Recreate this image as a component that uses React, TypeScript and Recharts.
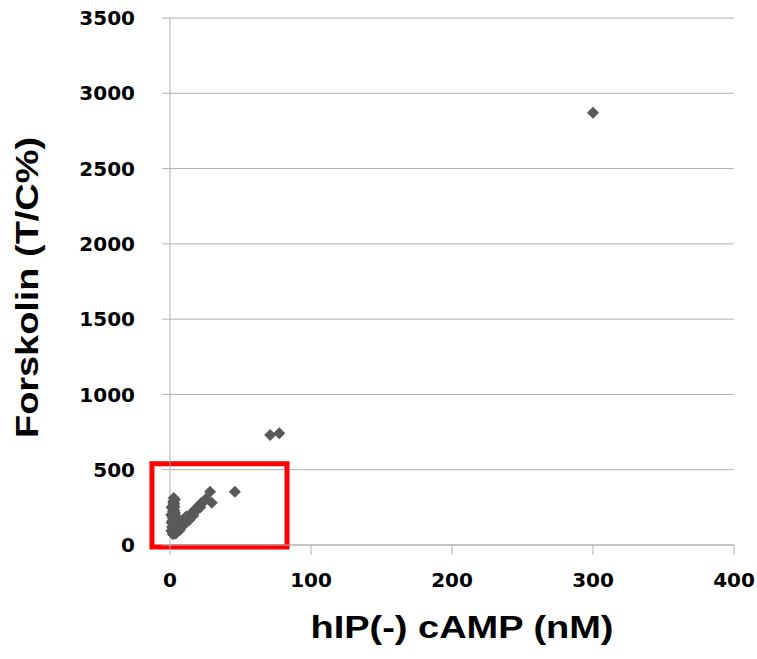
import { ScatterChart, Scatter, XAxis, YAxis, CartesianGrid, ReferenceArea } from "recharts"

// hIP(-) cAMP (nM) vs Forskolin (T/C%)
const camp = [
  2.0, 3.0, 1.5, 2.5, 3.5, 2.0, 3.0, 1.5, 2.5, 3.5, 2.0, 3.0, 1.5, 2.5, 3.5, 2.0,
  3.0, 1.5, 2.5, 3.5, 2.0, 3.0, 2.5, 1.8, 3.2, 2.4, 3.0, 2.2, 2.8, 3.4, 2.6,
  1.0, 4.2, 1.2, 4.0, 0.9, 4.3, 1.1,
  4.0, 5.0, 5.5, 6.5, 7.0, 8.0, 8.5, 9.5, 10.5, 11.0, 12.0, 13.0, 14.0, 15.0, 16.0,
  17.0, 18.0, 19.0, 20.0, 21.0, 22.0, 24.0, 9.0, 12.0, 15.0, 18.0,
  7.0, 10.0, 13.5, 16.5, 19.5, 6.0, 11.5, 21.5, 25.5,
  28.4, 29.6, 46, 71, 77.5, 300,
]
const forskolin = [
  72, 78, 88, 92, 98, 105, 112, 120, 128, 135, 142, 150, 158, 165, 172, 180,
  188, 196, 204, 212, 220, 228, 238, 246, 254, 264, 274, 284, 294, 302, 312,
  95, 110, 150, 140, 200, 190, 250,
  76, 86, 98, 108, 120, 130, 142, 150, 160, 172, 180, 190, 198, 208, 218,
  226, 236, 246, 256, 266, 278, 290, 135, 165, 195, 225,
  100, 135, 165, 195, 235, 125, 190, 250, 305,
  354, 280, 354, 730, 742, 2870,
]
const xTicks = [0, 100, 200, 300, 400]
const yTicks = [0, 500, 1000, 1500, 2000, 2500, 3000, 3500]
// highlight box around the low-value cluster (data units)
const boxX = [-12.8, 83]
const boxY = [-13, 540]

const data = camp.map((x, i) => ({ x, y: forskolin[i] }))

const GRID = "#b0b0b0"
const tickFont = { fill: "#000", fontSize: 20, fontWeight: 700, fontFamily: "DejaVu Sans" }

const Diamond = (props: any) => {
  const { cx, cy } = props
  const r = 6
  return (
    <polygon
      points={`${cx},${cy - r} ${cx + r},${cy} ${cx},${cy + r} ${cx - r},${cy}`}
      fill="#595959"
    />
  )
}

const XTitle = (props: any) => {
  const { viewBox } = props
  const cx = viewBox.x + viewBox.width / 2 + 10
  return (
    <text
      x={cx}
      y={638}
      textAnchor="middle"
      fontFamily="Liberation Sans"
      fontWeight={700}
      fontSize={32}
      textLength={303}
      lengthAdjust="spacingAndGlyphs"
      fill="#000"
    >
      hIP(-) cAMP (nM)
    </text>
  )
}

const YTitle = (props: any) => {
  const { viewBox } = props
  const cy = viewBox.y + viewBox.height / 2 + 6
  const x = 38
  return (
    <text
      x={x}
      y={cy}
      transform={`rotate(-90, ${x}, ${cy})`}
      textAnchor="middle"
      fontFamily="Liberation Sans"
      fontWeight={700}
      fontSize={32}
      textLength={301}
      lengthAdjust="spacingAndGlyphs"
      fill="#000"
    >
      Forskolin (T/C%)
    </text>
  )
}

export default function App() {
  return (
    <div style={{ position: "absolute", left: 0, top: 0, background: "#fff" }}>
      <ScatterChart width={757} height={659} margin={{ top: 18, right: 23, left: 0, bottom: 0 }}>
        <CartesianGrid horizontal vertical={false} stroke={GRID} />
        <XAxis
          type="number"
          dataKey="x"
          domain={[0, 400]}
          ticks={xTicks}
          height={114}
          tickSize={10}
          tickMargin={18}
          tick={tickFont}
          axisLine={{ stroke: GRID }}
          tickLine={{ stroke: GRID }}
          label={{ content: XTitle }}
        />
        <YAxis
          type="number"
          dataKey="y"
          domain={[0, 3500]}
          ticks={yTicks}
          width={170}
          tickSize={8}
          tickMargin={27}
          tick={tickFont}
          axisLine={{ stroke: GRID }}
          tickLine={{ stroke: GRID }}
          label={{ content: YTitle }}
        />
        <Scatter data={data} shape={Diamond} isAnimationActive={false} />
        <ReferenceArea
          x1={boxX[0]}
          x2={boxX[1]}
          y1={boxY[0]}
          y2={boxY[1]}
          ifOverflow="visible"
          fill="none"
          stroke="#ff0000"
          strokeWidth={5}
        />
      </ScatterChart>
    </div>
  )
}
